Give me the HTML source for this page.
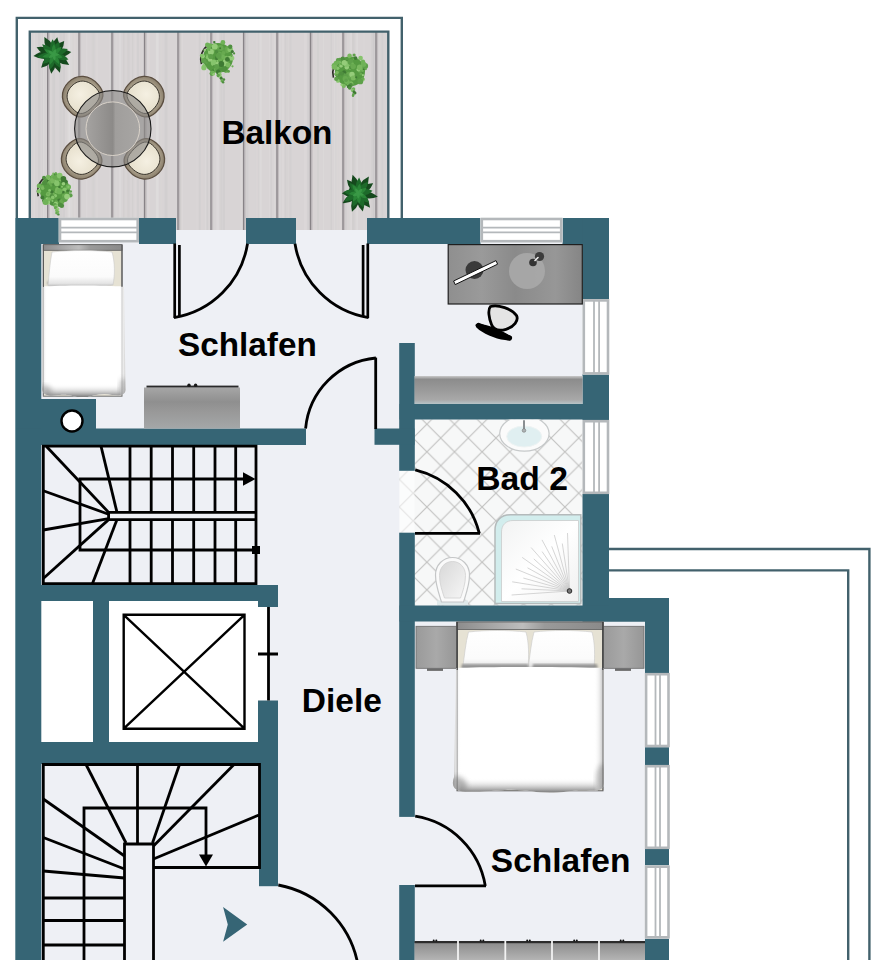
<!DOCTYPE html>
<html lang="de">
<head>
<meta charset="utf-8">
<title>Grundriss</title>
<style>
html,body{margin:0;padding:0;background:#fff;}
body{width:880px;height:960px;overflow:hidden;}
svg{display:block;}
text{font-family:"Liberation Sans",sans-serif;fill:#000;}
</style>
</head>
<body>
<svg width="880" height="960" viewBox="0 0 880 960">
<defs>
<pattern id="tile" width="27.6" height="27.6" patternUnits="userSpaceOnUse" patternTransform="translate(426.9 424.2)">
<rect width="27.6" height="27.6" fill="#f7f8f8"/>
<path d="M-1 -1L28.6 28.6M28.6 -1L-1 28.6" stroke="#c2c2c1" stroke-width="1.15" fill="none"/>
</pattern>
<linearGradient id="deskg" x1="0" y1="0" x2="1" y2="0">
<stop offset="0" stop-color="#8f8f8f"/><stop offset="0.25" stop-color="#9a9a9a"/><stop offset="0.5" stop-color="#8a8a8a"/><stop offset="0.8" stop-color="#979797"/><stop offset="1" stop-color="#858585"/>
</linearGradient>
<linearGradient id="shelfg" x1="0" y1="0" x2="0" y2="1">
<stop offset="0" stop-color="#c9c9c9"/><stop offset="0.12" stop-color="#8c8c8c"/><stop offset="0.5" stop-color="#9a9a9a"/><stop offset="0.85" stop-color="#a8a8a8"/><stop offset="1" stop-color="#b7c4c8"/>
</linearGradient>
<linearGradient id="nsg" x1="0" y1="0" x2="1" y2="0">
<stop offset="0" stop-color="#9a9a9a"/><stop offset="0.5" stop-color="#a9a9a9"/><stop offset="1" stop-color="#969696"/>
</linearGradient>
<filter id="blur1" x="-20%" y="-20%" width="140%" height="140%"><feGaussianBlur stdDeviation="1.2"/></filter>
<filter id="blur2" x="-20%" y="-20%" width="140%" height="140%"><feGaussianBlur stdDeviation="2.5"/></filter>
<filter id="blur3" x="-20%" y="-20%" width="140%" height="140%"><feGaussianBlur stdDeviation="4"/></filter>
<radialGradient id="tableg" cx="0.5" cy="0.5" r="0.5">
<stop offset="0" stop-color="#a9a7a5"/><stop offset="0.6" stop-color="#9c9a98"/><stop offset="1" stop-color="#8d8b89"/>
</radialGradient>
</defs>
<rect x="0" y="0" width="880" height="960" fill="#ffffff" />
<rect x="30" y="32" width="358" height="198" fill="#d8d4d5" />
<rect x="115.5" y="32" width="2.0" height="198" fill="#dcd8d8" opacity="0.4"/>
<rect x="356.2" y="32" width="1.8" height="198" fill="#e3e0e0" opacity="0.4"/>
<rect x="54.3" y="32" width="0.8" height="198" fill="#cbc7c7" opacity="0.4"/>
<rect x="123.1" y="32" width="1.3" height="198" fill="#cbc7c7" opacity="0.4"/>
<rect x="223.0" y="32" width="2.0" height="198" fill="#cbc7c7" opacity="0.4"/>
<rect x="257.9" y="32" width="1.1" height="198" fill="#cecaca" opacity="0.4"/>
<rect x="339.2" y="32" width="2.0" height="198" fill="#e0dddd" opacity="0.4"/>
<rect x="269.4" y="32" width="0.9" height="198" fill="#e3e0e0" opacity="0.4"/>
<rect x="46.2" y="32" width="2.5" height="198" fill="#dcd8d8" opacity="0.4"/>
<rect x="198.8" y="32" width="2.4" height="198" fill="#cbc7c7" opacity="0.4"/>
<rect x="284.5" y="32" width="2.8" height="198" fill="#cbc7c7" opacity="0.4"/>
<rect x="289.5" y="32" width="2.1" height="198" fill="#cecaca" opacity="0.4"/>
<rect x="343.0" y="32" width="1.0" height="198" fill="#cecaca" opacity="0.4"/>
<rect x="206.7" y="32" width="1.4" height="198" fill="#cbc7c7" opacity="0.4"/>
<rect x="307.5" y="32" width="2.7" height="198" fill="#cbc7c7" opacity="0.4"/>
<rect x="211.1" y="32" width="1.6" height="198" fill="#dcd8d8" opacity="0.4"/>
<rect x="220.6" y="32" width="1.7" height="198" fill="#cecaca" opacity="0.4"/>
<rect x="352.0" y="32" width="2.3" height="198" fill="#e0dddd" opacity="0.4"/>
<rect x="335.0" y="32" width="3.0" height="198" fill="#cecaca" opacity="0.4"/>
<rect x="279.0" y="32" width="1.5" height="198" fill="#e3e0e0" opacity="0.4"/>
<rect x="352.2" y="32" width="2.1" height="198" fill="#cecaca" opacity="0.4"/>
<rect x="255.7" y="32" width="3.0" height="198" fill="#dcd8d8" opacity="0.4"/>
<rect x="132.2" y="32" width="0.9" height="198" fill="#cbc7c7" opacity="0.4"/>
<rect x="62.4" y="32" width="2.6" height="198" fill="#cbc7c7" opacity="0.4"/>
<rect x="349.5" y="32" width="0.8" height="198" fill="#cbc7c7" opacity="0.4"/>
<rect x="303.9" y="32" width="2.7" height="198" fill="#e0dddd" opacity="0.4"/>
<rect x="245.8" y="32" width="2.5" height="198" fill="#cbc7c7" opacity="0.4"/>
<rect x="286.0" y="32" width="1.5" height="198" fill="#dcd8d8" opacity="0.4"/>
<rect x="210.4" y="32" width="3.0" height="198" fill="#dcd8d8" opacity="0.4"/>
<rect x="33.6" y="32" width="1.0" height="198" fill="#e3e0e0" opacity="0.4"/>
<rect x="42.1" y="32" width="1.2" height="198" fill="#cbc7c7" opacity="0.4"/>
<rect x="134.5" y="32" width="1.4" height="198" fill="#e0dddd" opacity="0.4"/>
<rect x="378.9" y="32" width="1.5" height="198" fill="#dcd8d8" opacity="0.4"/>
<rect x="371.3" y="32" width="2.8" height="198" fill="#cbc7c7" opacity="0.4"/>
<rect x="164.7" y="32" width="2.7" height="198" fill="#cbc7c7" opacity="0.4"/>
<rect x="259.6" y="32" width="2.1" height="198" fill="#e3e0e0" opacity="0.4"/>
<rect x="67.4" y="32" width="2.9" height="198" fill="#e3e0e0" opacity="0.4"/>
<rect x="127.3" y="32" width="2.2" height="198" fill="#cecaca" opacity="0.4"/>
<rect x="363.4" y="32" width="1.8" height="198" fill="#dcd8d8" opacity="0.4"/>
<rect x="216.0" y="32" width="2.0" height="198" fill="#e0dddd" opacity="0.4"/>
<rect x="310.9" y="32" width="3.0" height="198" fill="#dcd8d8" opacity="0.4"/>
<rect x="38.1" y="32" width="2.2" height="198" fill="#cecaca" opacity="0.4"/>
<rect x="52.3" y="32" width="2.2" height="198" fill="#cbc7c7" opacity="0.4"/>
<rect x="156.3" y="32" width="2.8" height="198" fill="#e3e0e0" opacity="0.4"/>
<rect x="282.0" y="32" width="2.4" height="198" fill="#e0dddd" opacity="0.4"/>
<rect x="240.2" y="32" width="2.9" height="198" fill="#e0dddd" opacity="0.4"/>
<rect x="373.0" y="32" width="1.4" height="198" fill="#cbc7c7" opacity="0.4"/>
<rect x="137.0" y="32" width="2.1" height="198" fill="#cecaca" opacity="0.4"/>
<rect x="160.2" y="32" width="1.5" height="198" fill="#dcd8d8" opacity="0.4"/>
<rect x="330.6" y="32" width="1.4" height="198" fill="#cbc7c7" opacity="0.4"/>
<rect x="68.2" y="32" width="2.6" height="198" fill="#e3e0e0" opacity="0.4"/>
<rect x="273.7" y="32" width="1.1" height="198" fill="#e3e0e0" opacity="0.4"/>
<rect x="110.0" y="32" width="2.6" height="198" fill="#cecaca" opacity="0.4"/>
<rect x="147.4" y="32" width="2.3" height="198" fill="#e0dddd" opacity="0.4"/>
<rect x="67.2" y="32" width="1.5" height="198" fill="#dcd8d8" opacity="0.4"/>
<rect x="270.6" y="32" width="1.3" height="198" fill="#cecaca" opacity="0.4"/>
<rect x="59.4" y="32" width="2.4" height="198" fill="#cecaca" opacity="0.4"/>
<rect x="345.1" y="32" width="1.8" height="198" fill="#cecaca" opacity="0.4"/>
<rect x="310.4" y="32" width="0.9" height="198" fill="#cecaca" opacity="0.4"/>
<rect x="142.9" y="32" width="2.6" height="198" fill="#e3e0e0" opacity="0.4"/>
<rect x="96.2" y="32" width="1.4" height="198" fill="#e0dddd" opacity="0.4"/>
<rect x="317.2" y="32" width="1.6" height="198" fill="#cecaca" opacity="0.4"/>
<rect x="180.6" y="32" width="1.9" height="198" fill="#dcd8d8" opacity="0.4"/>
<rect x="196.0" y="32" width="2.2" height="198" fill="#dcd8d8" opacity="0.4"/>
<rect x="180.0" y="32" width="1.7" height="198" fill="#cbc7c7" opacity="0.4"/>
<rect x="86.4" y="32" width="0.8" height="198" fill="#e3e0e0" opacity="0.4"/>
<rect x="381.4" y="32" width="1.8" height="198" fill="#cecaca" opacity="0.4"/>
<rect x="42.5" y="32" width="1.8" height="198" fill="#e3e0e0" opacity="0.4"/>
<rect x="373.0" y="32" width="2.0" height="198" fill="#cecaca" opacity="0.4"/>
<rect x="336.8" y="32" width="2.7" height="198" fill="#dcd8d8" opacity="0.4"/>
<rect x="73.6" y="32" width="1.3" height="198" fill="#e0dddd" opacity="0.4"/>
<rect x="351.8" y="32" width="2.3" height="198" fill="#cecaca" opacity="0.4"/>
<rect x="349.3" y="32" width="2.8" height="198" fill="#e3e0e0" opacity="0.4"/>
<rect x="48.5" y="32" width="1.9" height="198" fill="#e0dddd" opacity="0.4"/>
<rect x="92.0" y="32" width="1.5" height="198" fill="#e0dddd" opacity="0.4"/>
<rect x="217.4" y="32" width="1.7" height="198" fill="#e3e0e0" opacity="0.4"/>
<rect x="71.3" y="32" width="1.1" height="198" fill="#e3e0e0" opacity="0.4"/>
<rect x="200.4" y="32" width="2.5" height="198" fill="#dcd8d8" opacity="0.4"/>
<rect x="109.4" y="32" width="1.1" height="198" fill="#e0dddd" opacity="0.4"/>
<rect x="91.8" y="32" width="2.5" height="198" fill="#cecaca" opacity="0.4"/>
<rect x="323.3" y="32" width="0.8" height="198" fill="#e3e0e0" opacity="0.4"/>
<rect x="337.2" y="32" width="0.9" height="198" fill="#dcd8d8" opacity="0.4"/>
<rect x="119.1" y="32" width="2.2" height="198" fill="#e3e0e0" opacity="0.4"/>
<rect x="181.2" y="32" width="1.8" height="198" fill="#e0dddd" opacity="0.4"/>
<rect x="335.2" y="32" width="2.5" height="198" fill="#e0dddd" opacity="0.4"/>
<rect x="75.2" y="32" width="1.0" height="198" fill="#e0dddd" opacity="0.4"/>
<rect x="334.3" y="32" width="1.0" height="198" fill="#e3e0e0" opacity="0.4"/>
<rect x="204.9" y="32" width="1.1" height="198" fill="#e0dddd" opacity="0.4"/>
<rect x="155.7" y="32" width="2.2" height="198" fill="#e3e0e0" opacity="0.4"/>
<rect x="139.0" y="32" width="1.4" height="198" fill="#dcd8d8" opacity="0.4"/>
<line x1="49.1" y1="32" x2="49.1" y2="230" stroke="#c2bdbf" stroke-width="1.4" />
<line x1="47.7" y1="32" x2="47.7" y2="230" stroke="#888387" stroke-width="1.4" />
<line x1="80.4" y1="32" x2="80.4" y2="230" stroke="#c2bdbf" stroke-width="1.4" />
<line x1="79" y1="32" x2="79" y2="230" stroke="#888387" stroke-width="1.4" />
<line x1="113.4" y1="32" x2="113.4" y2="230" stroke="#c2bdbf" stroke-width="1.4" />
<line x1="112" y1="32" x2="112" y2="230" stroke="#888387" stroke-width="1.4" />
<line x1="145.9" y1="32" x2="145.9" y2="230" stroke="#c2bdbf" stroke-width="1.4" />
<line x1="144.5" y1="32" x2="144.5" y2="230" stroke="#888387" stroke-width="1.4" />
<line x1="179.4" y1="32" x2="179.4" y2="230" stroke="#c2bdbf" stroke-width="1.4" />
<line x1="178" y1="32" x2="178" y2="230" stroke="#888387" stroke-width="1.4" />
<line x1="212.4" y1="32" x2="212.4" y2="230" stroke="#c2bdbf" stroke-width="1.4" />
<line x1="211" y1="32" x2="211" y2="230" stroke="#888387" stroke-width="1.4" />
<line x1="245.0" y1="32" x2="245.0" y2="230" stroke="#c2bdbf" stroke-width="1.4" />
<line x1="243.6" y1="32" x2="243.6" y2="230" stroke="#888387" stroke-width="1.4" />
<line x1="278.4" y1="32" x2="278.4" y2="230" stroke="#c2bdbf" stroke-width="1.4" />
<line x1="277" y1="32" x2="277" y2="230" stroke="#888387" stroke-width="1.4" />
<line x1="311.9" y1="32" x2="311.9" y2="230" stroke="#c2bdbf" stroke-width="1.4" />
<line x1="310.5" y1="32" x2="310.5" y2="230" stroke="#888387" stroke-width="1.4" />
<line x1="344.4" y1="32" x2="344.4" y2="230" stroke="#c2bdbf" stroke-width="1.4" />
<line x1="343" y1="32" x2="343" y2="230" stroke="#888387" stroke-width="1.4" />
<line x1="377.4" y1="32" x2="377.4" y2="230" stroke="#c2bdbf" stroke-width="1.4" />
<line x1="376" y1="32" x2="376" y2="230" stroke="#888387" stroke-width="1.4" />
<path d="M16.8 218V17.85H401.8V218" fill="none" stroke="#42616c" stroke-width="2.4"/>
<path d="M29.8 218V31.6H388.3V218" fill="none" stroke="#42616c" stroke-width="2.4"/>
<path d="M609 549H869.4V960" fill="none" stroke="#42616c" stroke-width="2.4"/>
<path d="M609 570.4H848.2V960" fill="none" stroke="#42616c" stroke-width="2.4"/>
<rect x="41" y="230" width="542" height="216" fill="#eef0f5" />
<rect x="41" y="440" width="359" height="520" fill="#eef0f5" />
<rect x="399.5" y="471" width="15.5" height="63" fill="url(#tile)" />
<rect x="399.5" y="471" width="15.5" height="63" fill="#ffffff" opacity="0.55"/>
<rect x="414" y="620" width="232" height="340" fill="#eef0f5" />
<rect x="400" y="816" width="15" height="70" fill="#eef0f5" />
<rect x="414.5" y="419.5" width="168.0" height="186.0" fill="url(#tile)" />
<rect x="41" y="601" width="52" height="141" fill="#ffffff" />
<rect x="109" y="601" width="159" height="141" fill="#ffffff" />
<rect x="15.3" y="218" width="26.0" height="742" fill="#366575" />
<rect x="16" y="218" width="43" height="26" fill="#366575" />
<rect x="139" y="218" width="37" height="26" fill="#366575" />
<rect x="246" y="218" width="50" height="26" fill="#366575" />
<rect x="367" y="218" width="113.5" height="26" fill="#366575" />
<rect x="562.5" y="218" width="46.5" height="26" fill="#366575" />
<rect x="582.5" y="218" width="26.5" height="81" fill="#366575" />
<rect x="582.5" y="374" width="26.5" height="46" fill="#366575" />
<rect x="582.5" y="494" width="26.5" height="127.5" fill="#366575" />
<rect x="399.5" y="404" width="209.5" height="15.5" fill="#366575" />
<rect x="399.2" y="343" width="15.6" height="127.8" fill="#366575" />
<rect x="399.2" y="532.7" width="15.6" height="284.2" fill="#366575" />
<rect x="399.2" y="885" width="15.6" height="75" fill="#366575" />
<rect x="16" y="428.5" width="290" height="16.5" fill="#366575" />
<rect x="374.5" y="428.5" width="40.0" height="16.3" fill="#366575" />
<rect x="41" y="399" width="55" height="30" fill="#366575" />
<rect x="16" y="585" width="262" height="16" fill="#366575" />
<rect x="258" y="601" width="20" height="6" fill="#366575" />
<rect x="93" y="601" width="16" height="141" fill="#366575" />
<rect x="16" y="742" width="262" height="22" fill="#366575" />
<rect x="258" y="700.5" width="20" height="185.7" fill="#366575" />
<rect x="399.5" y="605.5" width="269.5" height="16.0" fill="#366575" />
<rect x="609" y="598" width="60" height="23.5" fill="#366575" />
<rect x="645" y="598" width="24" height="75.5" fill="#366575" />
<rect x="645" y="747" width="24" height="18" fill="#366575" />
<rect x="645" y="849" width="24" height="16.5" fill="#366575" />
<rect x="645" y="938.5" width="24" height="21.5" fill="#366575" />
<rect x="58.7" y="217.8" width="80.3" height="24.6" fill="#ffffff" />
<rect x="60.0" y="219.0" width="77.7" height="22.199999999999996" fill="none" stroke="#b4b8bb" stroke-width="2.6"/>
<line x1="59.7" y1="227.70000000000002" x2="138" y2="227.70000000000002" stroke="#b4b8bb" stroke-width="1.7" />
<line x1="59.7" y1="232.4" x2="138" y2="232.4" stroke="#b4b8bb" stroke-width="1.7" />
<rect x="480.5" y="217.8" width="82.0" height="24.6" fill="#ffffff" />
<rect x="481.8" y="219.0" width="79.4" height="22.199999999999996" fill="none" stroke="#b4b8bb" stroke-width="2.6"/>
<line x1="481.5" y1="227.70000000000002" x2="561.5" y2="227.70000000000002" stroke="#b4b8bb" stroke-width="1.7" />
<line x1="481.5" y1="232.4" x2="561.5" y2="232.4" stroke="#b4b8bb" stroke-width="1.7" />
<rect x="582.5" y="299.2" width="26.8" height="75.4" fill="#ffffff" />
<rect x="583.8" y="300.4" width="24.199999999999953" height="73.00000000000003" fill="none" stroke="#b4b8bb" stroke-width="2.6"/>
<line x1="594.0" y1="300.2" x2="594.0" y2="373.6" stroke="#b4b8bb" stroke-width="1.8" />
<line x1="599.1" y1="300.2" x2="599.1" y2="373.6" stroke="#b4b8bb" stroke-width="1.8" />
<rect x="582.5" y="420" width="26.8" height="74" fill="#ffffff" />
<rect x="583.8" y="421.2" width="24.199999999999953" height="71.6" fill="none" stroke="#b4b8bb" stroke-width="2.6"/>
<line x1="594.0" y1="421" x2="594.0" y2="493" stroke="#b4b8bb" stroke-width="1.8" />
<line x1="599.1" y1="421" x2="599.1" y2="493" stroke="#b4b8bb" stroke-width="1.8" />
<rect x="644.8" y="673" width="25.0" height="74.2" fill="#ffffff" />
<rect x="646.0999999999999" y="674.2" width="22.4" height="71.80000000000004" fill="none" stroke="#b4b8bb" stroke-width="2.6"/>
<line x1="655.5" y1="674" x2="655.5" y2="746.2" stroke="#b4b8bb" stroke-width="1.8" />
<line x1="660.0" y1="674" x2="660.0" y2="746.2" stroke="#b4b8bb" stroke-width="1.8" />
<rect x="644.8" y="765" width="25.0" height="84" fill="#ffffff" />
<rect x="646.0999999999999" y="766.2" width="22.4" height="81.6" fill="none" stroke="#b4b8bb" stroke-width="2.6"/>
<line x1="655.5" y1="766" x2="655.5" y2="848" stroke="#b4b8bb" stroke-width="1.8" />
<line x1="660.0" y1="766" x2="660.0" y2="848" stroke="#b4b8bb" stroke-width="1.8" />
<rect x="644.8" y="865.5" width="25.0" height="73.0" fill="#ffffff" />
<rect x="646.0999999999999" y="866.7" width="22.4" height="70.6" fill="none" stroke="#b4b8bb" stroke-width="2.6"/>
<line x1="655.5" y1="866.5" x2="655.5" y2="937.5" stroke="#b4b8bb" stroke-width="1.8" />
<line x1="660.0" y1="866.5" x2="660.0" y2="937.5" stroke="#b4b8bb" stroke-width="1.8" />
<circle cx="72" cy="421" r="10.5" fill="#fff" stroke="#000" stroke-width="2.4"/>
<path d="M174.7 243.5V318 M179.4 245V316.5" fill="none" stroke="#000" stroke-width="2.7" />
<path d="M247.5 243.8A89 89 0 0 1 174 317.6" fill="none" stroke="#000" stroke-width="2.8" />
<path d="M367.8 243.5V318 M363.1 245V316.5" fill="none" stroke="#000" stroke-width="2.7" />
<path d="M295 243.8A89 89 0 0 0 368.5 317.6" fill="none" stroke="#000" stroke-width="2.8" />
<path d="M375.7 357.6V429" fill="none" stroke="#000" stroke-width="2.8" />
<path d="M375.9 358A78 78 0 0 0 305.6 428.5" fill="none" stroke="#000" stroke-width="2.8" />
<path d="M415 533.4H480" fill="none" stroke="#000" stroke-width="2.8" />
<path d="M415.2 469.8A87 87 0 0 1 479.3 533.4" fill="none" stroke="#000" stroke-width="2.8" />
<path d="M415 885.9H486" fill="none" stroke="#000" stroke-width="2.8" />
<path d="M415.2 816.2A84.5 84.5 0 0 1 485.3 885.9" fill="none" stroke="#000" stroke-width="2.8" />
<path d="M278.3 885A99.5 99.5 0 0 1 358 965" fill="none" stroke="#000" stroke-width="2.8" />
<path d="M268.5 607V700.5 M258 654H278" fill="none" stroke="#000" stroke-width="2.8" />
<path d="M123.7 614.8H244.5V728.7H123.7Z M123.7 614.8L244.5 728.7 M244.5 614.8L123.7 728.7" fill="none" stroke="#000" stroke-width="2.4" stroke-linejoin="miter"/>
<rect x="43.3" y="446.2" width="212.7" height="137.4" fill="#eef0f5" />
<path d="M43.3 446.2H256V583.6H43.3Z M256 512.4H108.6V519.6H256 M245 479H80V550H256 M130 446.2V512.4 M130 519.6V583.6 M151.2 446.2V512.4 M151.2 519.6V583.6 M172.5 446.2V512.4 M172.5 519.6V583.6 M193.7 446.2V512.4 M193.7 519.6V583.6 M215 446.2V512.4 M215 519.6V583.6 M235.7 446.2V512.4 M235.7 519.6V583.6" fill="none" stroke="#000" stroke-width="2.8" />
<path d="M46.5 446.5L108.6 512.4" fill="none" stroke="#000" stroke-width="2.8" />
<path d="M101 446.2L117 512.4" fill="none" stroke="#000" stroke-width="2.8" />
<path d="M43.3 490.8L108.6 514.2" fill="none" stroke="#000" stroke-width="2.8" />
<path d="M43.3 530L108.6 518.6" fill="none" stroke="#000" stroke-width="2.8" />
<path d="M43.3 578.5L108.6 519.6" fill="none" stroke="#000" stroke-width="2.8" />
<path d="M92.5 583.6L117 519.6" fill="none" stroke="#000" stroke-width="2.8" />
<path d="M255.5 479L243 472.2V485.8Z" fill="#000"/>
<rect x="252" y="546" width="8" height="8" fill="#000" />
<rect x="43.3" y="764.5" width="215.7" height="195.5" fill="#eef0f5" />
<path d="M43.3 960V764.5H259.5V867.5H153.5 M124.5 960V844H153.5V960 M84 960V808H206V856 M43.3 898H124.5 M43.3 920.5H124.5 M43.3 945H124.5" fill="none" stroke="#000" stroke-width="2.8" />
<path d="M86 764.5L126 843" fill="none" stroke="#000" stroke-width="2.8" />
<path d="M137.5 764.5V844" fill="none" stroke="#000" stroke-width="2.8" />
<path d="M179.5 764.5L152.5 843" fill="none" stroke="#000" stroke-width="2.8" />
<path d="M234 764.5L153.5 846" fill="none" stroke="#000" stroke-width="2.8" />
<path d="M259 815L153.5 859" fill="none" stroke="#000" stroke-width="2.8" />
<path d="M43.3 799L124.5 856" fill="none" stroke="#000" stroke-width="2.8" />
<path d="M43.3 837.5L124.5 869" fill="none" stroke="#000" stroke-width="2.8" />
<path d="M43.3 871L124.5 878" fill="none" stroke="#000" stroke-width="2.8" />
<path d="M206 866.5L199 854.5H213Z" fill="#000"/>
<path d="M223.1 907L247.2 924.4L223.1 941.8L227.8 924.4Z" fill="#366575"/>
<defs>
<linearGradient id="hb" x1="0" y1="0" x2="1" y2="0"><stop offset="0" stop-color="#8c8c8c"/><stop offset="0.45" stop-color="#bdbdbd"/><stop offset="0.6" stop-color="#9a9a9a"/><stop offset="1" stop-color="#8a8a8a"/></linearGradient>
<linearGradient id="duvB" x1="0" y1="0" x2="0" y2="1"><stop offset="0" stop-color="#ffffff" stop-opacity="0"/><stop offset="0.45" stop-color="#d8d8d8" stop-opacity="0.7"/><stop offset="0.8" stop-color="#a8a8a8"/><stop offset="1" stop-color="#7a7a7a"/></linearGradient>
<linearGradient id="duvL" x1="0" y1="0" x2="1" y2="0"><stop offset="0" stop-color="#a8a8a8"/><stop offset="0.5" stop-color="#e4e4e4" stop-opacity="0.7"/><stop offset="1" stop-color="#ffffff" stop-opacity="0"/></linearGradient>
<linearGradient id="duvR" x1="1" y1="0" x2="0" y2="0"><stop offset="0" stop-color="#b8b8b8"/><stop offset="0.5" stop-color="#e8e8e8" stop-opacity="0.7"/><stop offset="1" stop-color="#ffffff" stop-opacity="0"/></linearGradient>
<linearGradient id="pilB" x1="0" y1="0" x2="0" y2="1"><stop offset="0" stop-color="#ffffff"/><stop offset="0.72" stop-color="#fbfbfb"/><stop offset="0.9" stop-color="#e4e4e4"/><stop offset="1" stop-color="#b4b4b4"/></linearGradient>
<linearGradient id="dres" x1="0" y1="0" x2="0" y2="1"><stop offset="0" stop-color="#a6a6a6"/><stop offset="0.35" stop-color="#8f8f8f"/><stop offset="0.6" stop-color="#999"/><stop offset="1" stop-color="#a4a7a8"/></linearGradient>
<linearGradient id="ward" x1="0" y1="0" x2="0" y2="1"><stop offset="0" stop-color="#8d8d8d"/><stop offset="1" stop-color="#b4b4b4"/></linearGradient>
<radialGradient id="chairg" cx="0.5" cy="0.55" r="0.6"><stop offset="0" stop-color="#c4bba8"/><stop offset="0.7" stop-color="#a59a86"/><stop offset="1" stop-color="#7d725f"/></radialGradient>
<radialGradient id="cush" cx="0.5" cy="0.4" r="0.7"><stop offset="0" stop-color="#f5f0e2"/><stop offset="1" stop-color="#e3dcc8"/></radialGradient>
<linearGradient id="tabl" x1="0" y1="0" x2="1" y2="0"><stop offset="0" stop-color="#a5a3a1"/><stop offset="0.5" stop-color="#8c8a88"/><stop offset="0.55" stop-color="#a09e9c"/><stop offset="1" stop-color="#a8a6a4"/></linearGradient>
<radialGradient id="pd" cx="0.5" cy="0.5" r="0.5"><stop offset="0" stop-color="#2f8a3c"/><stop offset="0.6" stop-color="#1e6a2b"/><stop offset="1" stop-color="#124a1c"/></radialGradient>
<linearGradient id="tray" x1="0" y1="0" x2="1" y2="1"><stop offset="0" stop-color="#f2f3f3"/><stop offset="0.5" stop-color="#ffffff"/><stop offset="1" stop-color="#f0f0f0"/></linearGradient>
<linearGradient id="seat" x1="0" y1="0" x2="1" y2="1"><stop offset="0" stop-color="#d8d8d8"/><stop offset="1" stop-color="#f6f6f6"/></linearGradient>
</defs>
<circle cx="53.6" cy="54.5" r="10.7" fill="#174f20"/>
<path transform="translate(53.6 54.5) rotate(12)" d="M0 2Q7.0 -7.9 0 -17.6Q-7.0 -7.9 0 2Z" fill="#15491d" opacity="1"/>
<path transform="translate(53.6 54.5) rotate(38)" d="M0 2Q7.0 -7.8 0 -17.2Q-7.0 -7.8 0 2Z" fill="#15491d" opacity="1"/>
<path transform="translate(53.6 54.5) rotate(82)" d="M0 2Q7.0 -8.0 0 -17.8Q-7.0 -8.0 0 2Z" fill="#15491d" opacity="1"/>
<path transform="translate(53.6 54.5) rotate(124)" d="M0 2Q7.0 -8.4 0 -18.8Q-7.0 -8.4 0 2Z" fill="#15491d" opacity="1"/>
<path transform="translate(53.6 54.5) rotate(161)" d="M0 2Q7.0 -8.7 0 -19.3Q-7.0 -8.7 0 2Z" fill="#15491d" opacity="1"/>
<path transform="translate(53.6 54.5) rotate(187)" d="M0 2Q7.0 -8.7 0 -19.3Q-7.0 -8.7 0 2Z" fill="#15491d" opacity="1"/>
<path transform="translate(53.6 54.5) rotate(223)" d="M0 2Q7.0 -8.2 0 -18.2Q-7.0 -8.2 0 2Z" fill="#15491d" opacity="1"/>
<path transform="translate(53.6 54.5) rotate(266)" d="M0 2Q7.0 -9.1 0 -20.2Q-7.0 -9.1 0 2Z" fill="#15491d" opacity="1"/>
<path transform="translate(53.6 54.5) rotate(293)" d="M0 2Q7.0 -8.3 0 -18.5Q-7.0 -8.3 0 2Z" fill="#15491d" opacity="1"/>
<path transform="translate(53.6 54.5) rotate(332)" d="M0 2Q7.0 -8.9 0 -19.7Q-7.0 -8.9 0 2Z" fill="#15491d" opacity="1"/>
<path transform="translate(53.6 54.5) rotate(23)" d="M0 2Q6.0 -6.4 0 -14.2Q-6.0 -6.4 0 2Z" fill="#1d6a2a" opacity="1"/>
<path transform="translate(53.6 54.5) rotate(69)" d="M0 2Q6.0 -6.9 0 -15.2Q-6.0 -6.9 0 2Z" fill="#1d6a2a" opacity="1"/>
<path transform="translate(53.6 54.5) rotate(109)" d="M0 2Q6.0 -7.0 0 -15.7Q-6.0 -7.0 0 2Z" fill="#1d6a2a" opacity="1"/>
<path transform="translate(53.6 54.5) rotate(154)" d="M0 2Q6.0 -6.8 0 -15.1Q-6.0 -6.8 0 2Z" fill="#1d6a2a" opacity="1"/>
<path transform="translate(53.6 54.5) rotate(193)" d="M0 2Q6.0 -6.9 0 -15.4Q-6.0 -6.9 0 2Z" fill="#1d6a2a" opacity="1"/>
<path transform="translate(53.6 54.5) rotate(230)" d="M0 2Q6.0 -6.4 0 -14.3Q-6.0 -6.4 0 2Z" fill="#1d6a2a" opacity="1"/>
<path transform="translate(53.6 54.5) rotate(261)" d="M0 2Q6.0 -7.5 0 -16.6Q-6.0 -7.5 0 2Z" fill="#1d6a2a" opacity="1"/>
<path transform="translate(53.6 54.5) rotate(312)" d="M0 2Q6.0 -6.9 0 -15.3Q-6.0 -6.9 0 2Z" fill="#1d6a2a" opacity="1"/>
<path transform="translate(53.6 54.5) rotate(356)" d="M0 2Q6.0 -6.9 0 -15.2Q-6.0 -6.9 0 2Z" fill="#1d6a2a" opacity="1"/>
<path transform="translate(53.6 54.5) rotate(46)" d="M0 2Q4.0 -5.0 0 -11.0Q-4.0 -5.0 0 2Z" fill="#2a8537" opacity="1"/>
<path transform="translate(53.6 54.5) rotate(109)" d="M0 2Q4.0 -4.3 0 -9.5Q-4.0 -4.3 0 2Z" fill="#2a8537" opacity="1"/>
<path transform="translate(53.6 54.5) rotate(150)" d="M0 2Q4.0 -5.0 0 -11.2Q-4.0 -5.0 0 2Z" fill="#2a8537" opacity="1"/>
<path transform="translate(53.6 54.5) rotate(200)" d="M0 2Q4.0 -5.0 0 -11.2Q-4.0 -5.0 0 2Z" fill="#2a8537" opacity="1"/>
<path transform="translate(53.6 54.5) rotate(258)" d="M0 2Q4.0 -5.1 0 -11.4Q-4.0 -5.1 0 2Z" fill="#2a8537" opacity="1"/>
<path transform="translate(53.6 54.5) rotate(299)" d="M0 2Q4.0 -4.8 0 -10.8Q-4.0 -4.8 0 2Z" fill="#2a8537" opacity="1"/>
<path transform="translate(53.6 54.5) rotate(362)" d="M0 2Q4.0 -4.8 0 -10.6Q-4.0 -4.8 0 2Z" fill="#2a8537" opacity="1"/>
<path transform="translate(53.6 54.5) rotate(23)" d="M0 2Q3.0 -2.5 0 -5.6Q-3.0 -2.5 0 2Z" fill="#3b9a47" opacity="0.9"/>
<path transform="translate(53.6 54.5) rotate(91)" d="M0 2Q3.0 -2.6 0 -5.8Q-3.0 -2.6 0 2Z" fill="#3b9a47" opacity="0.9"/>
<path transform="translate(53.6 54.5) rotate(168)" d="M0 2Q3.0 -2.8 0 -6.1Q-3.0 -2.8 0 2Z" fill="#3b9a47" opacity="0.9"/>
<path transform="translate(53.6 54.5) rotate(233)" d="M0 2Q3.0 -2.6 0 -5.9Q-3.0 -2.6 0 2Z" fill="#3b9a47" opacity="0.9"/>
<path transform="translate(53.6 54.5) rotate(305)" d="M0 2Q3.0 -2.9 0 -6.5Q-3.0 -2.9 0 2Z" fill="#3b9a47" opacity="0.9"/>
<circle cx="358.3" cy="193.3" r="10.2" fill="#174f20"/>
<path transform="translate(358.3 193.3) rotate(32)" d="M0 2Q7.0 -8.9 0 -19.9Q-7.0 -8.9 0 2Z" fill="#15491d" opacity="1"/>
<path transform="translate(358.3 193.3) rotate(56)" d="M0 2Q7.0 -8.1 0 -17.9Q-7.0 -8.1 0 2Z" fill="#15491d" opacity="1"/>
<path transform="translate(358.3 193.3) rotate(100)" d="M0 2Q7.0 -8.9 0 -19.8Q-7.0 -8.9 0 2Z" fill="#15491d" opacity="1"/>
<path transform="translate(358.3 193.3) rotate(141)" d="M0 2Q7.0 -8.4 0 -18.7Q-7.0 -8.4 0 2Z" fill="#15491d" opacity="1"/>
<path transform="translate(358.3 193.3) rotate(166)" d="M0 2Q7.0 -8.5 0 -18.8Q-7.0 -8.5 0 2Z" fill="#15491d" opacity="1"/>
<path transform="translate(358.3 193.3) rotate(199)" d="M0 2Q7.0 -8.8 0 -19.5Q-7.0 -8.8 0 2Z" fill="#15491d" opacity="1"/>
<path transform="translate(358.3 193.3) rotate(238)" d="M0 2Q7.0 -8.3 0 -18.5Q-7.0 -8.3 0 2Z" fill="#15491d" opacity="1"/>
<path transform="translate(358.3 193.3) rotate(270)" d="M0 2Q7.0 -7.4 0 -16.5Q-7.0 -7.4 0 2Z" fill="#15491d" opacity="1"/>
<path transform="translate(358.3 193.3) rotate(320)" d="M0 2Q7.0 -7.9 0 -17.6Q-7.0 -7.9 0 2Z" fill="#15491d" opacity="1"/>
<path transform="translate(358.3 193.3) rotate(343)" d="M0 2Q7.0 -8.8 0 -19.5Q-7.0 -8.8 0 2Z" fill="#15491d" opacity="1"/>
<path transform="translate(358.3 193.3) rotate(40)" d="M0 2Q6.0 -6.8 0 -15.2Q-6.0 -6.8 0 2Z" fill="#1d6a2a" opacity="1"/>
<path transform="translate(358.3 193.3) rotate(80)" d="M0 2Q6.0 -6.5 0 -14.4Q-6.0 -6.5 0 2Z" fill="#1d6a2a" opacity="1"/>
<path transform="translate(358.3 193.3) rotate(130)" d="M0 2Q6.0 -6.4 0 -14.2Q-6.0 -6.4 0 2Z" fill="#1d6a2a" opacity="1"/>
<path transform="translate(358.3 193.3) rotate(159)" d="M0 2Q6.0 -7.0 0 -15.5Q-6.0 -7.0 0 2Z" fill="#1d6a2a" opacity="1"/>
<path transform="translate(358.3 193.3) rotate(202)" d="M0 2Q6.0 -6.7 0 -14.9Q-6.0 -6.7 0 2Z" fill="#1d6a2a" opacity="1"/>
<path transform="translate(358.3 193.3) rotate(241)" d="M0 2Q6.0 -7.0 0 -15.6Q-6.0 -7.0 0 2Z" fill="#1d6a2a" opacity="1"/>
<path transform="translate(358.3 193.3) rotate(276)" d="M0 2Q6.0 -6.5 0 -14.4Q-6.0 -6.5 0 2Z" fill="#1d6a2a" opacity="1"/>
<path transform="translate(358.3 193.3) rotate(321)" d="M0 2Q6.0 -6.0 0 -13.4Q-6.0 -6.0 0 2Z" fill="#1d6a2a" opacity="1"/>
<path transform="translate(358.3 193.3) rotate(363)" d="M0 2Q6.0 -7.1 0 -15.8Q-6.0 -7.1 0 2Z" fill="#1d6a2a" opacity="1"/>
<path transform="translate(358.3 193.3) rotate(58)" d="M0 2Q4.0 -4.4 0 -9.7Q-4.0 -4.4 0 2Z" fill="#2a8537" opacity="1"/>
<path transform="translate(358.3 193.3) rotate(119)" d="M0 2Q4.0 -4.4 0 -9.8Q-4.0 -4.4 0 2Z" fill="#2a8537" opacity="1"/>
<path transform="translate(358.3 193.3) rotate(175)" d="M0 2Q4.0 -4.8 0 -10.8Q-4.0 -4.8 0 2Z" fill="#2a8537" opacity="1"/>
<path transform="translate(358.3 193.3) rotate(213)" d="M0 2Q4.0 -4.4 0 -9.9Q-4.0 -4.4 0 2Z" fill="#2a8537" opacity="1"/>
<path transform="translate(358.3 193.3) rotate(268)" d="M0 2Q4.0 -4.2 0 -9.4Q-4.0 -4.2 0 2Z" fill="#2a8537" opacity="1"/>
<path transform="translate(358.3 193.3) rotate(325)" d="M0 2Q4.0 -4.6 0 -10.3Q-4.0 -4.6 0 2Z" fill="#2a8537" opacity="1"/>
<path transform="translate(358.3 193.3) rotate(368)" d="M0 2Q4.0 -4.3 0 -9.6Q-4.0 -4.3 0 2Z" fill="#2a8537" opacity="1"/>
<path transform="translate(358.3 193.3) rotate(40)" d="M0 2Q3.0 -2.7 0 -6.0Q-3.0 -2.7 0 2Z" fill="#3b9a47" opacity="0.9"/>
<path transform="translate(358.3 193.3) rotate(108)" d="M0 2Q3.0 -2.6 0 -5.7Q-3.0 -2.6 0 2Z" fill="#3b9a47" opacity="0.9"/>
<path transform="translate(358.3 193.3) rotate(180)" d="M0 2Q3.0 -2.4 0 -5.4Q-3.0 -2.4 0 2Z" fill="#3b9a47" opacity="0.9"/>
<path transform="translate(358.3 193.3) rotate(244)" d="M0 2Q3.0 -2.8 0 -6.2Q-3.0 -2.8 0 2Z" fill="#3b9a47" opacity="0.9"/>
<path transform="translate(358.3 193.3) rotate(329)" d="M0 2Q3.0 -2.7 0 -6.0Q-3.0 -2.7 0 2Z" fill="#3b9a47" opacity="0.9"/>
<path d="M201.4 64.1A17.5 17.5 0 0 1 208.4 44.9" fill="none" stroke="#2a2a24" stroke-width="1.6"/>
<circle cx="218" cy="58" r="15.0" fill="#559a41"/>
<circle cx="234.1" cy="53.4" r="1.1" fill="#4f8f3f"/>
<circle cx="213.5" cy="63.4" r="2.6" fill="#7ab85f"/>
<circle cx="217.9" cy="65.9" r="1.1" fill="#86c46c"/>
<circle cx="231.7" cy="58.0" r="2.6" fill="#95cc7a"/>
<circle cx="207.0" cy="54.9" r="1.5" fill="#6fb257"/>
<circle cx="225.1" cy="50.5" r="2.9" fill="#5ea04a"/>
<circle cx="203.7" cy="65.4" r="1.3" fill="#86c46c"/>
<circle cx="218.2" cy="60.6" r="1.7" fill="#86c46c"/>
<circle cx="207.7" cy="57.3" r="2.0" fill="#86c46c"/>
<circle cx="229.4" cy="57.7" r="1.8" fill="#95cc7a"/>
<circle cx="220.5" cy="48.1" r="3.0" fill="#68aa50"/>
<circle cx="225.9" cy="70.6" r="2.4" fill="#68aa50"/>
<circle cx="213.2" cy="50.9" r="1.6" fill="#68aa50"/>
<circle cx="202.4" cy="57.9" r="1.7" fill="#68aa50"/>
<circle cx="227.4" cy="51.1" r="2.1" fill="#68aa50"/>
<circle cx="210.0" cy="58.7" r="1.6" fill="#86c46c"/>
<circle cx="227.6" cy="48.6" r="2.5" fill="#68aa50"/>
<circle cx="211.9" cy="73.6" r="2.4" fill="#5ea04a"/>
<circle cx="215.0" cy="65.2" r="2.0" fill="#4f8f3f"/>
<circle cx="220.1" cy="48.2" r="1.0" fill="#3f7a34"/>
<circle cx="223.6" cy="57.9" r="2.1" fill="#6fb257"/>
<circle cx="216.8" cy="66.1" r="2.8" fill="#4f8f3f"/>
<circle cx="218.2" cy="51.7" r="1.5" fill="#3f7a34"/>
<circle cx="222.0" cy="56.5" r="2.8" fill="#6fb257"/>
<circle cx="227.6" cy="61.6" r="1.5" fill="#6fb257"/>
<circle cx="232.5" cy="66.3" r="1.1" fill="#6fb257"/>
<circle cx="213.7" cy="62.4" r="2.9" fill="#86c46c"/>
<circle cx="217.3" cy="57.9" r="2.2" fill="#3f7a34"/>
<circle cx="219.9" cy="60.7" r="1.7" fill="#4f8f3f"/>
<circle cx="215.3" cy="69.7" r="1.6" fill="#6fb257"/>
<circle cx="230.2" cy="49.4" r="2.7" fill="#86c46c"/>
<circle cx="210.0" cy="59.4" r="2.3" fill="#95cc7a"/>
<circle cx="219.4" cy="55.7" r="2.6" fill="#86c46c"/>
<circle cx="202.9" cy="56.3" r="2.0" fill="#95cc7a"/>
<circle cx="228.4" cy="71.2" r="1.5" fill="#5ea04a"/>
<circle cx="209.8" cy="46.2" r="2.9" fill="#6fb257"/>
<circle cx="217.9" cy="64.2" r="1.3" fill="#68aa50"/>
<circle cx="209.9" cy="48.8" r="3.0" fill="#6fb257"/>
<circle cx="226.3" cy="57.7" r="1.9" fill="#7ab85f"/>
<circle cx="225.2" cy="62.0" r="2.6" fill="#95cc7a"/>
<circle cx="217.5" cy="69.1" r="2.1" fill="#6fb257"/>
<circle cx="224.2" cy="66.6" r="1.3" fill="#4f8f3f"/>
<circle cx="218.3" cy="63.4" r="1.4" fill="#3f7a34"/>
<circle cx="220.1" cy="59.6" r="2.3" fill="#68aa50"/>
<circle cx="213.0" cy="70.8" r="1.4" fill="#3f7a34"/>
<circle cx="216.5" cy="46.8" r="2.0" fill="#6fb257"/>
<circle cx="230.2" cy="46.8" r="2.2" fill="#4f8f3f"/>
<circle cx="211.8" cy="47.8" r="1.0" fill="#4f8f3f"/>
<circle cx="210.9" cy="52.1" r="3.0" fill="#95cc7a"/>
<circle cx="212.3" cy="73.0" r="1.8" fill="#4f8f3f"/>
<circle cx="212.6" cy="72.8" r="2.3" fill="#6fb257"/>
<circle cx="219.6" cy="54.1" r="2.3" fill="#68aa50"/>
<circle cx="221.4" cy="70.7" r="1.1" fill="#7ab85f"/>
<circle cx="227.4" cy="59.4" r="2.4" fill="#3f7a34"/>
<circle cx="218.2" cy="50.5" r="2.1" fill="#5ea04a"/>
<circle cx="216.6" cy="51.7" r="1.7" fill="#4f8f3f"/>
<circle cx="217.8" cy="64.0" r="2.2" fill="#95cc7a"/>
<circle cx="207.4" cy="45.0" r="2.4" fill="#6fb257"/>
<circle cx="209.3" cy="50.0" r="1.1" fill="#68aa50"/>
<circle cx="213.7" cy="74.3" r="1.3" fill="#95cc7a"/>
<circle cx="216.5" cy="70.4" r="2.0" fill="#5ea04a"/>
<circle cx="232.3" cy="51.5" r="1.6" fill="#3f7a34"/>
<circle cx="225.3" cy="69.0" r="2.1" fill="#4f8f3f"/>
<circle cx="204.7" cy="50.0" r="1.2" fill="#95cc7a"/>
<circle cx="223.7" cy="69.3" r="2.6" fill="#4f8f3f"/>
<circle cx="222.9" cy="42.4" r="2.4" fill="#6fb257"/>
<circle cx="224.5" cy="64.7" r="1.5" fill="#95cc7a"/>
<circle cx="206.5" cy="62.7" r="1.2" fill="#5ea04a"/>
<circle cx="228.1" cy="65.0" r="2.4" fill="#7ab85f"/>
<circle cx="221.3" cy="64.0" r="2.9" fill="#3f7a34"/>
<circle cx="203.9" cy="67.7" r="2.6" fill="#86c46c"/>
<circle cx="203.8" cy="61.0" r="2.6" fill="#5ea04a"/>
<circle cx="223.4" cy="53.1" r="2.0" fill="#68aa50"/>
<circle cx="216.7" cy="66.5" r="2.5" fill="#5ea04a"/>
<circle cx="214.7" cy="46.7" r="2.9" fill="#95cc7a"/>
<circle cx="214.3" cy="42.1" r="1.2" fill="#3f7a34"/>
<circle cx="210.7" cy="56.5" r="2.6" fill="#5ea04a"/>
<circle cx="231.5" cy="56.1" r="1.0" fill="#68aa50"/>
<circle cx="201.8" cy="55.6" r="1.9" fill="#86c46c"/>
<circle cx="218.9" cy="55.9" r="2.9" fill="#5ea04a"/>
<circle cx="219.6" cy="70.2" r="2.2" fill="#4f8f3f"/>
<circle cx="218.1" cy="71.6" r="2.1" fill="#3f7a34"/>
<circle cx="218.2" cy="72.9" r="2.0" fill="#3f7a34"/>
<circle cx="219.6" cy="74.2" r="1.9" fill="#86c46c"/>
<circle cx="218.3" cy="75.6" r="1.8" fill="#5ea04a"/>
<circle cx="220.7" cy="76.9" r="1.6" fill="#86c46c"/>
<circle cx="221.2" cy="78.2" r="1.5" fill="#3f7a34"/>
<circle cx="223.8" cy="79.6" r="1.4" fill="#4f8f3f"/>
<circle cx="221.8" cy="80.9" r="1.3" fill="#68aa50"/>
<circle cx="223.1" cy="82.2" r="1.2" fill="#4f8f3f"/>
<path d="M333.4 77.6A17.5 17.5 0 0 1 340.4 58.4" fill="none" stroke="#2a2a24" stroke-width="1.6"/>
<circle cx="350" cy="71.5" r="15.0" fill="#559a41"/>
<circle cx="351.0" cy="84.1" r="1.7" fill="#68aa50"/>
<circle cx="346.9" cy="68.4" r="1.0" fill="#68aa50"/>
<circle cx="349.5" cy="79.8" r="3.0" fill="#68aa50"/>
<circle cx="337.7" cy="68.3" r="1.8" fill="#86c46c"/>
<circle cx="350.8" cy="78.1" r="2.9" fill="#5ea04a"/>
<circle cx="349.2" cy="57.5" r="1.1" fill="#6fb257"/>
<circle cx="349.0" cy="74.4" r="2.7" fill="#68aa50"/>
<circle cx="336.4" cy="62.3" r="1.8" fill="#5ea04a"/>
<circle cx="337.9" cy="80.9" r="1.9" fill="#86c46c"/>
<circle cx="353.9" cy="67.8" r="1.3" fill="#3f7a34"/>
<circle cx="349.3" cy="85.5" r="2.6" fill="#7ab85f"/>
<circle cx="336.2" cy="78.9" r="2.1" fill="#5ea04a"/>
<circle cx="335.9" cy="63.3" r="2.4" fill="#6fb257"/>
<circle cx="360.6" cy="58.1" r="2.3" fill="#86c46c"/>
<circle cx="346.9" cy="62.2" r="2.1" fill="#4f8f3f"/>
<circle cx="348.2" cy="63.8" r="2.7" fill="#7ab85f"/>
<circle cx="349.1" cy="75.7" r="2.7" fill="#68aa50"/>
<circle cx="363.0" cy="79.6" r="1.8" fill="#86c46c"/>
<circle cx="361.1" cy="72.9" r="1.8" fill="#4f8f3f"/>
<circle cx="362.9" cy="75.2" r="1.1" fill="#95cc7a"/>
<circle cx="334.4" cy="66.3" r="1.6" fill="#3f7a34"/>
<circle cx="359.5" cy="71.4" r="1.2" fill="#6fb257"/>
<circle cx="366.0" cy="66.2" r="1.6" fill="#7ab85f"/>
<circle cx="352.0" cy="74.4" r="2.7" fill="#95cc7a"/>
<circle cx="345.9" cy="76.4" r="2.7" fill="#5ea04a"/>
<circle cx="338.0" cy="74.5" r="2.3" fill="#4f8f3f"/>
<circle cx="337.9" cy="60.1" r="2.0" fill="#5ea04a"/>
<circle cx="340.4" cy="60.7" r="2.9" fill="#5ea04a"/>
<circle cx="362.3" cy="69.8" r="2.1" fill="#6fb257"/>
<circle cx="354.1" cy="55.0" r="1.6" fill="#5ea04a"/>
<circle cx="339.8" cy="62.4" r="1.1" fill="#95cc7a"/>
<circle cx="336.2" cy="74.5" r="1.7" fill="#7ab85f"/>
<circle cx="349.8" cy="69.0" r="1.1" fill="#6fb257"/>
<circle cx="358.4" cy="69.5" r="1.9" fill="#95cc7a"/>
<circle cx="353.3" cy="78.1" r="2.5" fill="#7ab85f"/>
<circle cx="346.7" cy="81.5" r="2.5" fill="#6fb257"/>
<circle cx="364.0" cy="69.0" r="1.3" fill="#3f7a34"/>
<circle cx="344.9" cy="64.2" r="1.7" fill="#5ea04a"/>
<circle cx="346.8" cy="67.2" r="2.2" fill="#95cc7a"/>
<circle cx="346.3" cy="64.3" r="2.6" fill="#86c46c"/>
<circle cx="362.9" cy="78.6" r="1.4" fill="#68aa50"/>
<circle cx="348.0" cy="86.6" r="1.1" fill="#3f7a34"/>
<circle cx="343.8" cy="85.9" r="2.1" fill="#7ab85f"/>
<circle cx="341.6" cy="84.7" r="1.2" fill="#95cc7a"/>
<circle cx="340.6" cy="65.6" r="2.0" fill="#7ab85f"/>
<circle cx="336.7" cy="74.5" r="1.6" fill="#5ea04a"/>
<circle cx="360.8" cy="73.9" r="1.4" fill="#68aa50"/>
<circle cx="365.1" cy="65.9" r="3.0" fill="#5ea04a"/>
<circle cx="334.1" cy="65.3" r="2.4" fill="#6fb257"/>
<circle cx="349.6" cy="55.8" r="2.3" fill="#7ab85f"/>
<circle cx="334.4" cy="67.1" r="2.7" fill="#7ab85f"/>
<circle cx="356.2" cy="77.3" r="1.1" fill="#3f7a34"/>
<circle cx="363.0" cy="61.7" r="2.2" fill="#6fb257"/>
<circle cx="344.1" cy="72.2" r="2.0" fill="#3f7a34"/>
<circle cx="343.5" cy="60.9" r="1.8" fill="#4f8f3f"/>
<circle cx="345.3" cy="78.7" r="2.7" fill="#68aa50"/>
<circle cx="351.6" cy="67.6" r="1.4" fill="#4f8f3f"/>
<circle cx="334.9" cy="68.2" r="1.3" fill="#7ab85f"/>
<circle cx="363.6" cy="64.2" r="2.6" fill="#6fb257"/>
<circle cx="337.1" cy="72.5" r="1.8" fill="#7ab85f"/>
<circle cx="350.1" cy="85.0" r="2.0" fill="#6fb257"/>
<circle cx="335.1" cy="74.1" r="1.0" fill="#6fb257"/>
<circle cx="350.6" cy="67.9" r="1.1" fill="#68aa50"/>
<circle cx="365.7" cy="69.0" r="1.2" fill="#68aa50"/>
<circle cx="346.1" cy="80.3" r="1.7" fill="#5ea04a"/>
<circle cx="341.2" cy="66.2" r="1.4" fill="#95cc7a"/>
<circle cx="344.5" cy="74.2" r="1.0" fill="#5ea04a"/>
<circle cx="353.6" cy="59.1" r="1.1" fill="#68aa50"/>
<circle cx="338.0" cy="62.2" r="1.8" fill="#6fb257"/>
<circle cx="341.9" cy="63.6" r="1.7" fill="#68aa50"/>
<circle cx="350.6" cy="61.9" r="2.9" fill="#5ea04a"/>
<circle cx="341.8" cy="73.6" r="2.1" fill="#4f8f3f"/>
<circle cx="352.7" cy="63.8" r="1.3" fill="#6fb257"/>
<circle cx="359.7" cy="67.4" r="2.8" fill="#7ab85f"/>
<circle cx="360.3" cy="81.4" r="2.9" fill="#5ea04a"/>
<circle cx="342.7" cy="58.7" r="2.1" fill="#4f8f3f"/>
<circle cx="355.5" cy="58.1" r="1.9" fill="#3f7a34"/>
<circle cx="350.5" cy="67.9" r="1.2" fill="#4f8f3f"/>
<circle cx="344.3" cy="62.7" r="2.6" fill="#95cc7a"/>
<circle cx="353.2" cy="66.5" r="2.7" fill="#68aa50"/>
<circle cx="351.3" cy="83.8" r="2.2" fill="#7ab85f"/>
<circle cx="350.8" cy="85.1" r="2.1" fill="#4f8f3f"/>
<circle cx="349.0" cy="86.4" r="2.0" fill="#3f7a34"/>
<circle cx="349.8" cy="87.8" r="1.9" fill="#4f8f3f"/>
<circle cx="353.5" cy="89.1" r="1.8" fill="#6fb257"/>
<circle cx="352.4" cy="90.4" r="1.6" fill="#86c46c"/>
<circle cx="354.0" cy="91.8" r="1.5" fill="#3f7a34"/>
<circle cx="355.1" cy="93.1" r="1.4" fill="#3f7a34"/>
<circle cx="353.4" cy="94.4" r="1.3" fill="#5ea04a"/>
<circle cx="353.0" cy="95.8" r="1.2" fill="#5ea04a"/>
<path d="M38.2 196.3A17.5 17.5 0 0 1 45.2 177.1" fill="none" stroke="#2a2a24" stroke-width="1.6"/>
<circle cx="54.8" cy="190.2" r="15.0" fill="#559a41"/>
<circle cx="55.3" cy="195.7" r="1.8" fill="#86c46c"/>
<circle cx="56.8" cy="191.5" r="2.1" fill="#7ab85f"/>
<circle cx="59.5" cy="175.9" r="1.4" fill="#95cc7a"/>
<circle cx="53.6" cy="197.2" r="1.2" fill="#3f7a34"/>
<circle cx="57.4" cy="189.2" r="2.3" fill="#7ab85f"/>
<circle cx="57.2" cy="183.0" r="1.6" fill="#95cc7a"/>
<circle cx="66.2" cy="197.1" r="2.3" fill="#3f7a34"/>
<circle cx="60.0" cy="200.8" r="1.2" fill="#7ab85f"/>
<circle cx="64.1" cy="190.6" r="2.4" fill="#7ab85f"/>
<circle cx="61.9" cy="180.2" r="1.8" fill="#7ab85f"/>
<circle cx="48.5" cy="193.1" r="1.6" fill="#6fb257"/>
<circle cx="65.0" cy="195.9" r="3.0" fill="#68aa50"/>
<circle cx="52.8" cy="184.0" r="2.3" fill="#4f8f3f"/>
<circle cx="48.2" cy="194.2" r="2.3" fill="#7ab85f"/>
<circle cx="59.4" cy="200.6" r="2.2" fill="#3f7a34"/>
<circle cx="59.3" cy="187.1" r="1.1" fill="#3f7a34"/>
<circle cx="52.6" cy="203.1" r="2.7" fill="#4f8f3f"/>
<circle cx="51.3" cy="196.5" r="1.9" fill="#6fb257"/>
<circle cx="51.7" cy="194.1" r="2.9" fill="#7ab85f"/>
<circle cx="53.2" cy="173.5" r="1.0" fill="#7ab85f"/>
<circle cx="51.9" cy="196.2" r="2.3" fill="#4f8f3f"/>
<circle cx="52.8" cy="197.4" r="1.9" fill="#86c46c"/>
<circle cx="54.8" cy="203.5" r="1.3" fill="#6fb257"/>
<circle cx="47.2" cy="199.0" r="1.7" fill="#95cc7a"/>
<circle cx="67.8" cy="190.0" r="1.9" fill="#3f7a34"/>
<circle cx="47.9" cy="193.8" r="1.1" fill="#6fb257"/>
<circle cx="53.7" cy="177.0" r="2.9" fill="#6fb257"/>
<circle cx="42.3" cy="186.5" r="1.6" fill="#6fb257"/>
<circle cx="63.8" cy="198.9" r="2.5" fill="#5ea04a"/>
<circle cx="50.4" cy="183.9" r="1.4" fill="#68aa50"/>
<circle cx="52.0" cy="192.0" r="1.8" fill="#3f7a34"/>
<circle cx="48.1" cy="181.2" r="1.4" fill="#3f7a34"/>
<circle cx="63.3" cy="191.9" r="1.5" fill="#3f7a34"/>
<circle cx="56.3" cy="179.2" r="1.5" fill="#95cc7a"/>
<circle cx="70.5" cy="195.4" r="2.1" fill="#5ea04a"/>
<circle cx="68.3" cy="187.0" r="2.7" fill="#6fb257"/>
<circle cx="49.6" cy="190.4" r="1.4" fill="#86c46c"/>
<circle cx="47.6" cy="202.1" r="2.6" fill="#95cc7a"/>
<circle cx="59.7" cy="178.8" r="2.3" fill="#7ab85f"/>
<circle cx="49.1" cy="199.3" r="2.0" fill="#7ab85f"/>
<circle cx="68.4" cy="186.9" r="1.1" fill="#86c46c"/>
<circle cx="55.7" cy="181.3" r="2.7" fill="#86c46c"/>
<circle cx="50.4" cy="179.4" r="1.9" fill="#5ea04a"/>
<circle cx="62.0" cy="186.7" r="1.0" fill="#86c46c"/>
<circle cx="70.8" cy="191.5" r="1.2" fill="#5ea04a"/>
<circle cx="64.0" cy="181.4" r="2.8" fill="#3f7a34"/>
<circle cx="61.8" cy="201.6" r="2.6" fill="#68aa50"/>
<circle cx="64.6" cy="184.4" r="1.2" fill="#4f8f3f"/>
<circle cx="38.9" cy="191.3" r="2.2" fill="#86c46c"/>
<circle cx="59.5" cy="191.4" r="2.8" fill="#6fb257"/>
<circle cx="51.9" cy="199.9" r="1.1" fill="#68aa50"/>
<circle cx="43.6" cy="200.5" r="1.6" fill="#3f7a34"/>
<circle cx="55.7" cy="174.4" r="1.8" fill="#4f8f3f"/>
<circle cx="65.0" cy="199.1" r="2.8" fill="#5ea04a"/>
<circle cx="42.3" cy="197.5" r="1.9" fill="#3f7a34"/>
<circle cx="44.0" cy="177.7" r="2.0" fill="#4f8f3f"/>
<circle cx="56.9" cy="183.5" r="2.7" fill="#86c46c"/>
<circle cx="52.2" cy="180.8" r="2.7" fill="#7ab85f"/>
<circle cx="39.1" cy="186.0" r="2.4" fill="#6fb257"/>
<circle cx="51.2" cy="185.4" r="1.2" fill="#68aa50"/>
<circle cx="42.6" cy="188.2" r="1.8" fill="#7ab85f"/>
<circle cx="45.5" cy="202.0" r="3.0" fill="#6fb257"/>
<circle cx="48.9" cy="178.2" r="1.6" fill="#68aa50"/>
<circle cx="57.4" cy="177.5" r="2.9" fill="#68aa50"/>
<circle cx="46.2" cy="182.8" r="1.3" fill="#95cc7a"/>
<circle cx="64.8" cy="189.3" r="1.9" fill="#86c46c"/>
<circle cx="48.7" cy="178.1" r="1.6" fill="#95cc7a"/>
<circle cx="59.8" cy="204.7" r="2.3" fill="#4f8f3f"/>
<circle cx="67.0" cy="196.6" r="2.8" fill="#95cc7a"/>
<circle cx="49.3" cy="182.1" r="1.6" fill="#6fb257"/>
<circle cx="44.9" cy="182.7" r="2.5" fill="#4f8f3f"/>
<circle cx="59.7" cy="175.6" r="2.9" fill="#86c46c"/>
<circle cx="61.8" cy="205.7" r="2.3" fill="#4f8f3f"/>
<circle cx="55.9" cy="173.4" r="1.2" fill="#68aa50"/>
<circle cx="48.1" cy="177.0" r="2.2" fill="#7ab85f"/>
<circle cx="63.4" cy="178.8" r="2.8" fill="#3f7a34"/>
<circle cx="66.3" cy="181.5" r="1.6" fill="#3f7a34"/>
<circle cx="54.5" cy="177.6" r="2.1" fill="#68aa50"/>
<circle cx="63.5" cy="183.8" r="1.8" fill="#95cc7a"/>
<circle cx="52.5" cy="201.0" r="1.0" fill="#86c46c"/>
<circle cx="56.4" cy="202.4" r="2.2" fill="#68aa50"/>
<circle cx="55.8" cy="203.8" r="2.1" fill="#95cc7a"/>
<circle cx="54.9" cy="205.1" r="2.0" fill="#5ea04a"/>
<circle cx="56.0" cy="206.4" r="1.9" fill="#86c46c"/>
<circle cx="55.7" cy="207.8" r="1.8" fill="#68aa50"/>
<circle cx="57.8" cy="209.1" r="1.6" fill="#95cc7a"/>
<circle cx="56.5" cy="210.4" r="1.5" fill="#7ab85f"/>
<circle cx="58.0" cy="211.8" r="1.4" fill="#7ab85f"/>
<circle cx="56.5" cy="213.1" r="1.3" fill="#68aa50"/>
<circle cx="58.4" cy="214.4" r="1.2" fill="#4f8f3f"/>
<g transform="translate(82.5 96.5) rotate(-45)"><path d="M-19.5 3C-20.5 -11 -12 -20 0 -20C12 -20 20.5 -11 19.5 3C19 13 14 17.5 0 17.5C-14 17.5 -19 13 -19.5 3Z" fill="url(#chairg)" stroke="#5b4e40" stroke-width="1.3"/><path d="M-15.5 4C-16 -8 -10 -15 0 -15C10 -15 16 -8 15.5 4C15.2 11.5 11 14.5 0 14.5C-11 14.5 -15.2 11.5 -15.5 4Z" fill="url(#cush)" stroke="#2e2a23" stroke-width="0.9"/></g>
<g transform="translate(144 96.5) rotate(45)"><path d="M-19.5 3C-20.5 -11 -12 -20 0 -20C12 -20 20.5 -11 19.5 3C19 13 14 17.5 0 17.5C-14 17.5 -19 13 -19.5 3Z" fill="url(#chairg)" stroke="#5b4e40" stroke-width="1.3"/><path d="M-15.5 4C-16 -8 -10 -15 0 -15C10 -15 16 -8 15.5 4C15.2 11.5 11 14.5 0 14.5C-11 14.5 -15.2 11.5 -15.5 4Z" fill="url(#cush)" stroke="#2e2a23" stroke-width="0.9"/></g>
<g transform="translate(81.5 159) rotate(-135)"><path d="M-19.5 3C-20.5 -11 -12 -20 0 -20C12 -20 20.5 -11 19.5 3C19 13 14 17.5 0 17.5C-14 17.5 -19 13 -19.5 3Z" fill="url(#chairg)" stroke="#5b4e40" stroke-width="1.3"/><path d="M-15.5 4C-16 -8 -10 -15 0 -15C10 -15 16 -8 15.5 4C15.2 11.5 11 14.5 0 14.5C-11 14.5 -15.2 11.5 -15.5 4Z" fill="url(#cush)" stroke="#2e2a23" stroke-width="0.9"/></g>
<g transform="translate(144.5 159) rotate(135)"><path d="M-19.5 3C-20.5 -11 -12 -20 0 -20C12 -20 20.5 -11 19.5 3C19 13 14 17.5 0 17.5C-14 17.5 -19 13 -19.5 3Z" fill="url(#chairg)" stroke="#5b4e40" stroke-width="1.3"/><path d="M-15.5 4C-16 -8 -10 -15 0 -15C10 -15 16 -8 15.5 4C15.2 11.5 11 14.5 0 14.5C-11 14.5 -15.2 11.5 -15.5 4Z" fill="url(#cush)" stroke="#2e2a23" stroke-width="0.9"/></g>
<circle cx="112.8" cy="128.7" r="38.2" fill="#8b8987" fill-opacity="0.62" stroke="#1a1a1a" stroke-width="1.1"/>
<circle cx="112.8" cy="128.7" r="26.8" fill="url(#tabl)" stroke="#d9d2c9" stroke-width="1"/>
<rect x="43.3" y="244.7" width="78.7" height="151.5" fill="#e6e2d4" stroke="#6f6f6f" stroke-width="1"/>
<rect x="43.3" y="244.7" width="78.7" height="5.6" fill="url(#hb)" stroke="#5f5f5f" stroke-width="0.8"/>
<ellipse cx="60" cy="283" rx="13" ry="4" fill="#8d8d8d" opacity="0.7" filter="url(#blur1)"/>
<path d="M52 252C70 250 95 250 112 252C115 262 115 275 113 285C95 287.5 65 287.5 48 286C49 275 50 262 52 252Z" fill="url(#pilB)" stroke="#c9c9c9" stroke-width="0.6"/>
<path d="M42 286.5C60 285 105 285 124 286.5L125.5 390C125 396 118 396 112 395C100 392 92 397 84 397.5C74 398 70 394 60 395C52 396 44 397 42 390Z" fill="#fff"/>
<clipPath id="cd1"><path d="M42 286.5C60 285 105 285 124 286.5L125.5 390C125 396 118 396 112 395C100 392 92 397 84 397.5C74 398 70 394 60 395C52 396 44 397 42 390Z"/></clipPath>
<g clip-path="url(#cd1)"><rect x="41" y="384" width="86" height="13" fill="url(#duvB)"/><rect x="41" y="286" width="6" height="112" fill="url(#duvL)" opacity="0.8"/><rect x="119.5" y="286" width="6.5" height="112" fill="url(#duvR)" opacity="0.8"/></g>
<rect x="144" y="387.5" width="96" height="41" fill="url(#dres)"/>
<rect x="146.5" y="385.6" width="92" height="1.9" fill="#2a2a2a"/>
<circle cx="189" cy="385.3" r="1.7" fill="#1a1a1a"/><circle cx="195.6" cy="385.3" r="1.7" fill="#1a1a1a"/>
<rect x="448.2" y="244.6" width="134.1" height="59.4" fill="url(#deskg)" stroke="#1e1e1e" stroke-width="1.2"/>
<circle cx="527" cy="271" r="18" fill="#aaaaaa" opacity="0.85"/>
<circle cx="474.5" cy="270" r="9" fill="#3a3a3a"/>
<path d="M455.2 284.6L497.6 264.2L496 260.6L453.6 281Z" fill="#fff" stroke="#111" stroke-width="1"/>
<circle cx="539.5" cy="256.5" r="4.6" fill="#3c3c3c"/><circle cx="533" cy="262.5" r="3.8" fill="#333"/><path d="M535 260.5L538 257.5" stroke="#eee" stroke-width="1.6" stroke-linecap="round"/>
<path d="M490.5 306.5C498 304.5 512 308.5 516.5 315.5C519 320.5 514 327 506 329.3C499 331.3 493.5 329.5 491.5 324.5C489 318.5 487.5 309.5 490.5 306.5Z" fill="#e4e4e4" stroke="#000" stroke-width="2.8"/>
<path d="M478.5 325.5C487 329 499 334.5 509.5 338" fill="none" stroke="#000" stroke-width="5.2" stroke-linecap="round"/>
<path d="M477 324C485 323 505 331 511.5 337C512.5 340 509 341 505 340C495 339 482 333 477 328C475 326 475 324 477 324Z" fill="#000"/>
<rect x="414.5" y="376" width="168" height="28" fill="url(#shelfg)"/>
<clipPath id="cs"><rect x="414.5" y="419.5" width="168" height="60"/></clipPath>
<g clip-path="url(#cs)"><ellipse cx="524.4" cy="433.6" rx="24.7" ry="17.6" fill="#fbfbfb" stroke="#c6c9ca" stroke-width="1.2"/><ellipse cx="524.2" cy="436.5" rx="17.5" ry="10.5" fill="#e0eff1" stroke="#eef3f3" stroke-width="1"/><path d="M524 421V430" stroke="#8a8f92" stroke-width="2" stroke-linecap="round"/><circle cx="524" cy="430.5" r="1.8" fill="#aeb3b5" stroke="#777" stroke-width="0.6"/></g>
<rect x="437" y="600.5" width="31" height="4.5" fill="#dfe9ea"/>
<path d="M452.5 557.5C462 557.5 469.5 565 469.5 575C469.5 585 466 594 463.5 602H441.5C439 594 435.5 585 435.5 575C435.5 565 443 557.5 452.5 557.5Z" fill="#fafafa" stroke="#c4c6c7" stroke-width="1.2"/>
<path d="M452.5 561.5C460 561.5 465.5 567.5 465.5 575.5C465.5 584 462.5 592 460.5 598H444.5C442.5 592 439.5 584 439.5 575.5C439.5 567.5 445 561.5 452.5 561.5Z" fill="url(#seat)" stroke="#d0d0d0" stroke-width="0.8"/>
<path d="M495 603.5V530C495 521 501 514.8 510 514.8H580.8V603.5Z" fill="#d2eded" stroke="#b4babb" stroke-width="1.5"/>
<path d="M501.5 601.5V532C501.5 525 506 520.5 513 520.5H578.5V601.5Z" fill="url(#tray)" stroke="#c9cccc" stroke-width="0.8"/>
<clipPath id="csh"><rect x="502" y="521" width="76" height="80"/></clipPath>
<path d="M569.5 591L511.6 595.0 M569.5 591L521.5 588.8 M569.5 591L512.2 581.8 M569.5 591L523.3 578.0 M569.5 591L515.8 569.0 M569.5 591L527.5 567.8 M569.5 591L522.2 557.4 M569.5 591L533.8 558.9 M569.5 591L531.1 547.5 M569.5 591L542.1 551.6 M569.5 591L542.0 539.9 M569.5 591L551.7 546.4 M569.5 591L554.3 535.0 M569.5 591L562.3 543.5 M569.5 591L567.5 533.0" stroke="#c4c4c4" stroke-width="0.7" fill="none" clip-path="url(#csh)"/>
<circle cx="569.5" cy="591" r="2.3" fill="#777" stroke="#2a2a2a" stroke-width="1"/>
<rect x="416" y="626.3" width="40.7" height="42" fill="url(#nsg)" stroke="#6a6a6a" stroke-width="0.8"/>
<rect x="603.3" y="626.3" width="40.7" height="42" fill="url(#nsg)" stroke="#6a6a6a" stroke-width="0.8"/>
<rect x="427" y="668.3" width="16" height="2.6" fill="#6c6c6c"/>
<rect x="615" y="668.3" width="16" height="2.6" fill="#6c6c6c"/>
<rect x="457" y="622.3" width="146" height="168.5" fill="#e6e2d4" stroke="#5a5a5a" stroke-width="1"/>
<rect x="456.6" y="622" width="146.8" height="7.6" fill="url(#hb)" stroke="#5f5f5f" stroke-width="0.8"/>
<path d="M468.5 632C485.5 630 509 630 526 632C529 643 529 656 528 668C509 670.5 480.5 670.5 462.5 669C464.5 656 465.5 643 468.5 632Z" fill="url(#pilB)" stroke="#c9c9c9" stroke-width="0.6"/>
<path d="M534 632C551 630 575 630 592 632C595 643 595 656 594 668C575 670.5 546 670.5 528 669C530 656 531 643 534 632Z" fill="url(#pilB)" stroke="#c9c9c9" stroke-width="0.6"/>
<path d="M462 664H528L529 669H461Z M533 664H597L598 669H532Z" fill="#7d7d7d" opacity="0.75" filter="url(#blur1)"/>
<path d="M456 668C490 666.5 570 666.5 604 668L604 783C604 790 598 791 590 790.5C575 789 562 793 550 793C535 793 525 789 505 790C490 791 470 793 460 791C452 789 452 783 454 777Z" fill="#fff"/>
<clipPath id="cd2"><path d="M456 668C490 666.5 570 666.5 604 668L604 783C604 790 598 791 590 790.5C575 789 562 793 550 793C535 793 525 789 505 790C490 791 470 793 460 791C452 789 452 783 454 777Z"/></clipPath>
<g clip-path="url(#cd2)"><rect x="450" y="778" width="156" height="14.5" fill="url(#duvB)"/><rect x="452" y="668" width="9" height="126" fill="url(#duvL)"/><rect x="594" y="668" width="10" height="126" fill="url(#duvR)"/></g>
<g clip-path="url(#cd2)"><ellipse cx="455" cy="786" rx="12" ry="10" fill="#8a8a8a" opacity="0.6" filter="url(#blur2)"/><ellipse cx="603" cy="780" rx="7" ry="16" fill="#8a8a8a" opacity="0.5" filter="url(#blur2)"/></g>
<g clip-path="url(#cd1)"><ellipse cx="44" cy="392" rx="8" ry="7" fill="#8a8a8a" opacity="0.5" filter="url(#blur2)"/><ellipse cx="124" cy="388" rx="5" ry="10" fill="#8a8a8a" opacity="0.45" filter="url(#blur2)"/></g>
<path d="M457.2 622V670 M602.8 622V670" stroke="#3f3f3f" stroke-width="1.3" fill="none"/>
<path d="M457.2 670V790 M602.8 670V790" stroke="#555" stroke-width="1.2" fill="none" opacity="0.45"/>
<path d="M43.4 245V287 M122 245V287" stroke="#5a5a5a" stroke-width="1.1" fill="none"/>
<path d="M43.4 287V395 M122 287V395" stroke="#666" stroke-width="1" fill="none" opacity="0.35"/>
<rect x="414.5" y="943" width="230.5" height="17" fill="url(#ward)"/>
<rect x="414.5" y="941" width="230.5" height="2.2" fill="#2c2c2c"/>
<rect x="457.1" y="940.5" width="1.8" height="20" fill="#f2f2f2"/>
<rect x="504.40000000000003" y="940.5" width="1.8" height="20" fill="#f2f2f2"/>
<rect x="551.1" y="940.5" width="1.8" height="20" fill="#f2f2f2"/>
<rect x="598.1" y="940.5" width="1.8" height="20" fill="#f2f2f2"/>
<circle cx="433.7" cy="940.6" r="1" fill="#111"/><circle cx="436.3" cy="940.6" r="1" fill="#111"/>
<circle cx="480.7" cy="940.6" r="1" fill="#111"/><circle cx="483.3" cy="940.6" r="1" fill="#111"/>
<circle cx="527.2" cy="940.6" r="1" fill="#111"/><circle cx="529.8" cy="940.6" r="1" fill="#111"/>
<circle cx="574.2" cy="940.6" r="1" fill="#111"/><circle cx="576.8" cy="940.6" r="1" fill="#111"/>
<circle cx="620.7" cy="940.6" r="1" fill="#111"/><circle cx="623.3" cy="940.6" r="1" fill="#111"/>
<text x="221.4" y="144.2" font-size="33.3" font-weight="700">Balkon</text>
<text x="178" y="356" font-size="33.3" font-weight="700">Schlafen</text>
<text x="476.2" y="490.4" font-size="33.7" font-weight="700">Bad 2</text>
<text x="301.8" y="712.4" font-size="33.5" font-weight="700">Diele</text>
<text x="490.8" y="872" font-size="33.5" font-weight="700">Schlafen</text>
</svg>
</body>
</html>
